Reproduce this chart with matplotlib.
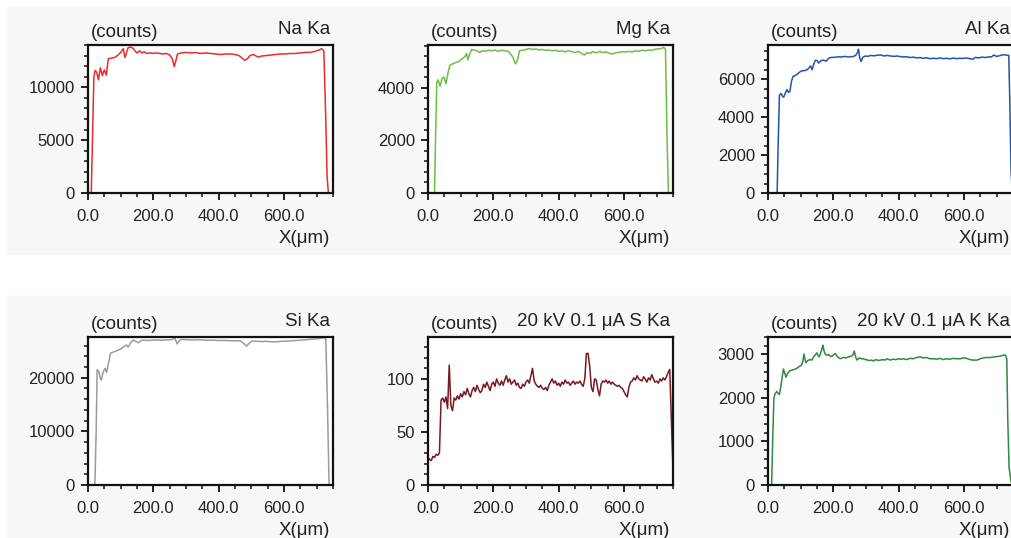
import matplotlib.pyplot as plt
from matplotlib.patches import Rectangle
from matplotlib.ticker import MultipleLocator, FormatStrFormatter

# Na Ka
na_x = [0, 10, 18, 22, 27, 32, 38, 44, 50, 56, 62, 70, 80, 90, 100, 108, 113, 118, 123, 130,
        138, 145, 150, 158, 165, 172, 180, 190, 200, 210, 220, 230, 240, 250, 258, 264, 268, 274,
        285, 300, 315, 330, 345, 360, 375, 390, 405, 420, 435, 450, 462, 472, 480, 488, 496, 506,
        515, 522, 530, 545, 560, 575, 590, 605, 620, 635, 650, 665, 680, 695, 705, 715, 722, 727,
        732, 736, 750]
na_y = [0, 0, 11000, 11600, 11400, 10700, 11850, 11100, 11650, 11150, 12700, 12750, 12800, 13000,
        13300, 13650, 12800, 13300, 13750, 13800, 13700, 13400, 13250, 13450, 13250, 13350, 13200,
        13250, 13200, 13250, 13200, 13150, 13200, 13050, 12700, 11950, 12400, 13150, 13250, 13300,
        13250, 13280, 13200, 13250, 13200, 13150, 13100, 13150, 13150, 13100, 13000, 12750, 12550,
        12700, 13000, 13100, 12950, 12850, 12950, 13000, 13050, 13100, 13150, 13150, 13200, 13200,
        13250, 13300, 13300, 13400, 13500, 13650, 13450, 8000, 1500, 0, 0]

# Mg Ka
mg_x = [0, 20, 23, 27, 31, 37, 43, 49, 55, 61, 67, 75, 85, 95, 105, 113, 118, 122, 128, 134,
        142, 150, 158, 166, 175, 185, 195, 205, 215, 225, 235, 245, 252, 260, 268, 274, 280, 290,
        300, 311, 320, 330, 340, 350, 360, 370, 380, 390, 400, 410, 420, 430, 440, 450, 460, 470,
        479, 487, 495, 505, 515, 525, 535, 545, 555, 566, 575, 585, 595, 605, 615, 625, 635, 645,
        655, 665, 675, 685, 695, 705, 715, 722, 727, 732, 736, 750]
mg_y = [0, 0, 2000, 4200, 4300, 4050, 4350, 4400, 4150, 4550, 4850, 4900, 4950, 5000, 5100, 5180,
        5300, 5050, 5300, 5450, 5420, 5400, 5330, 5400, 5380, 5420, 5400, 5430, 5380, 5420, 5400,
        5380, 5300, 5150, 4900, 5050, 5400, 5420, 5450, 5490, 5450, 5470, 5430, 5450, 5420, 5430,
        5400, 5420, 5380, 5400, 5360, 5400, 5370, 5330, 5380, 5300, 5240, 5330, 5300, 5370, 5320,
        5380, 5330, 5360, 5300, 5280, 5330, 5340, 5370, 5350, 5380, 5360, 5400, 5380, 5420, 5400,
        5430, 5420, 5460, 5470, 5490, 5530, 5450, 2000, 0, 0]

# Al Ka
al_x = [0, 28, 31, 35, 40, 44, 48, 54, 58, 63, 67, 72, 77, 85, 92, 99, 106, 113, 120, 126, 130,
        135, 140, 145, 150, 155, 162, 170, 178, 185, 195, 205, 215, 225, 235, 245, 255, 262, 268,
        274, 277, 281, 285, 290, 298, 305, 315, 325, 335, 344, 355, 365, 375, 385, 395, 405, 415,
        425, 435, 445, 455, 465, 475, 485, 495, 507, 517, 527, 537, 547, 557, 567, 577, 587, 597,
        607, 617, 627, 635, 645, 655, 665, 675, 685, 691, 700, 710, 720, 728, 737, 740, 744, 748,
        750]
al_y = [0, 0, 2500, 5150, 5250, 5100, 5050, 5300, 5450, 5300, 5350, 5900, 6150, 6200, 6300, 6400,
        6450, 6450, 6500, 6600, 6700, 6500, 6800, 7000, 6980, 6850, 6980, 7000, 6950, 7100, 7150,
        7150, 7180, 7170, 7200, 7170, 7180, 7200, 7250, 7400, 7580, 7100, 6930, 7150, 7220, 7200,
        7250, 7230, 7260, 7280, 7220, 7250, 7220, 7200, 7220, 7190, 7170, 7180, 7140, 7160, 7120,
        7140, 7100, 7130, 7080, 7100, 7080, 7120, 7080, 7100, 7070, 7110, 7080, 7100, 7090, 7120,
        7080, 7050, 7150, 7120, 7160, 7140, 7170, 7180, 7270, 7200, 7240, 7290, 7270, 7250, 5000,
        1200, 0, 0]

# Si Ka
si_x = [0, 21, 25, 28, 33, 38, 41, 46, 52, 57, 62, 69, 78, 88, 98, 108, 118, 123, 130, 138, 146,
        154, 162, 169, 180, 195, 210, 225, 240, 255, 266, 273, 280, 287, 300, 320, 340, 360, 380,
        400, 420, 440, 455, 466, 475, 485, 493, 502, 515, 530, 545, 560, 578, 595, 610, 625, 640,
        655, 670, 685, 700, 712, 722, 728, 733, 738, 750]
si_y = [0, 0, 10000, 21500, 21200, 19800, 19600, 21000, 21750, 21000, 22500, 24600, 24800, 25030,
        25300, 25700, 26100, 25700, 26500, 27030, 26800, 26530, 26900, 27030, 26950, 27000, 27050,
        27000, 27050, 27100, 27350, 26300, 27000, 27150, 27100, 27050, 27100, 27000, 27000, 26950,
        26950, 26900, 26900, 26900, 26500, 25900, 26400, 26840, 26800, 26750, 26800, 26700, 26720,
        26800, 26850, 26900, 26950, 27030, 27100, 27200, 27250, 27350, 27460, 27200, 15000, 0, 0]

# S Ka, every 5 um
s_x = list(range(0, 755, 5))
s_y = [26, 24, 23, 27, 26, 29, 28, 30, 80, 82, 78, 83, 72, 113, 75, 70, 82, 80, 84, 81,
       86, 83, 88, 85, 91, 86, 83, 89, 92, 88, 94, 90, 87, 89, 95, 92, 97, 93, 89, 95,
       97, 93, 100, 96, 94, 98, 94, 99, 103, 97, 100, 95, 97, 99, 94, 96, 92, 91, 95, 93,
       97, 99, 96, 103, 110, 98, 95, 93, 92, 94, 91, 90, 92, 89, 94, 97, 100, 96, 98, 94,
       96, 93, 97, 95, 99, 96, 97, 94, 96, 98, 95, 97, 96, 98, 95, 93, 100, 124, 124, 112,
       92, 88, 100, 99, 90, 84, 95, 98, 97, 99, 96, 98, 95, 97, 95, 94, 93, 94, 92, 91,
       88, 85, 83, 92, 97, 98, 101, 99, 103, 100, 99, 98, 102, 100, 97, 101, 99, 104, 100, 97,
       98, 96, 100, 98, 101, 99, 102, 106, 109, 60, 14]

# K Ka
k_x = [0, 11, 15, 18, 22, 27, 31, 35, 40, 44, 47, 51, 55, 60, 67, 75, 82, 88, 95, 103, 107, 110,
       113, 116, 122, 128, 134, 140, 146, 149, 153, 157, 162, 166, 168, 171, 175, 180, 185, 190,
       195, 200, 206, 212, 221, 230, 239, 247, 255, 260, 264, 268, 272, 280, 286, 292, 300, 310,
       317, 323, 330, 340, 350, 358, 365, 374, 383, 392, 400, 408, 415, 425, 435, 445, 455, 466,
       475, 485, 495, 507, 517, 527, 537, 547, 557, 567, 577, 589, 598, 608, 618, 628, 640, 650,
       660, 670, 680, 690, 700, 711, 719, 727, 731, 734, 738, 744, 750]
k_y = [0, 0, 1200, 2000, 2100, 2150, 2100, 2080, 2300, 2500, 2664, 2580, 2475, 2560, 2626, 2640,
       2660, 2680, 2720, 2756, 2850, 3007, 2900, 2810, 2860, 2880, 2870, 2950, 3000, 3037, 2980,
       2945, 3050, 3150, 3210, 3100, 3007, 2980, 3000, 2960, 2950, 2990, 3020, 2950, 2900, 2930,
       2920, 2945, 2960, 2990, 3080, 2950, 2870, 2920, 2900, 2900, 2880, 2860, 2870, 2850, 2880,
       2860, 2880, 2870, 2900, 2870, 2890, 2880, 2900, 2890, 2900, 2880, 2910, 2900, 2930, 2945,
       2920, 2930, 2900, 2900, 2890, 2910, 2880, 2900, 2890, 2910, 2900, 2900, 2920, 2910, 2880,
       2870, 2870, 2900, 2920, 2930, 2930, 2940, 2950, 2960, 2980, 2985, 2900, 1500, 400, 80, 0]

titles = ["Na Ka", "Mg Ka", "Al Ka", "Si Ka", "20 kV 0.1 \u03bcA S Ka", "20 kV 0.1 \u03bcA K Ka"]
colors = ["#ee2a2e", "#6cbf45", "#2154a8", "#9b9b9b", "#741a20", "#2e8a40"]
ylims = [14000, 5620, 7800, 27600, 139.5, 3400]
major_steps = [5000, 2000, 2000, 10000, 50, 1000]
minor_steps = [1000, 400, 500, 2000, 10, 200]

W, H = 1011, 538
TXT = "#222222"


def setup_axes(ax, title, ymax, major, minor):
    ax.set_xlim(0, 750)
    ax.set_ylim(0, ymax)
    ax.xaxis.set_major_locator(MultipleLocator(200))
    ax.xaxis.set_minor_locator(MultipleLocator(50))
    ax.xaxis.set_major_formatter(FormatStrFormatter('%.1f'))
    ax.yaxis.set_major_locator(MultipleLocator(major))
    ax.yaxis.set_minor_locator(MultipleLocator(minor))
    ax.tick_params(which='major', length=5, width=1.3, colors='#111111',
                   labelcolor=TXT, labelsize=12)
    ax.tick_params(which='minor', length=3.2, width=1.1, colors='#111111')
    ax.tick_params(axis='x', which='major', pad=6.5)
    ax.tick_params(axis='y', which='major', pad=4.5)
    for sp in ax.spines.values():
        sp.set_linewidth(1.6)
        sp.set_color('#111111')
    ax.text(0.012, 1.086, "(counts)", transform=ax.transAxes, ha='left', va='center',
            fontsize=13.5, color=TXT)
    ax.text(0.988, 1.104, title, transform=ax.transAxes, ha='right', va='center',
            fontsize=13.5, color=TXT)
    ax.text(0.988, -0.306, "X(\u03bcm)", transform=ax.transAxes, ha='right', va='center',
            fontsize=13.5, color=TXT)


def main():
    plt.rcParams['font.family'] = ['Liberation Sans', 'DejaVu Sans']
    fig = plt.figure(figsize=(W / 100, H / 100), dpi=100)

    # light grey panel bands, behind the axes
    fig.patches.append(Rectangle((7 / W, 1 - 254 / H), 1, 247 / H, transform=fig.transFigure,
                                 color='#f7f7f7', zorder=-5))
    fig.patches.append(Rectangle((7 / W, 0), 1, 1 - 296 / H, transform=fig.transFigure,
                                 color='#f7f7f7', zorder=-5))

    xs = [na_x, mg_x, al_x, si_x, s_x, k_x]
    ys = [na_y, mg_y, al_y, si_y, s_y, k_y]
    lefts = [88, 428, 768]
    bottoms = [193, 485]
    for i in range(6):
        col = i % 3
        row = i // 3
        ax = fig.add_axes([lefts[col] / W, 1 - bottoms[row] / H, 245 / W, 148 / H])
        ax.plot(xs[i], ys[i], color=colors[i], lw=1.1)
        setup_axes(ax, titles[i], ylims[i], major_steps[i], minor_steps[i])

    fig.savefig("out.png", dpi=100)


main()
